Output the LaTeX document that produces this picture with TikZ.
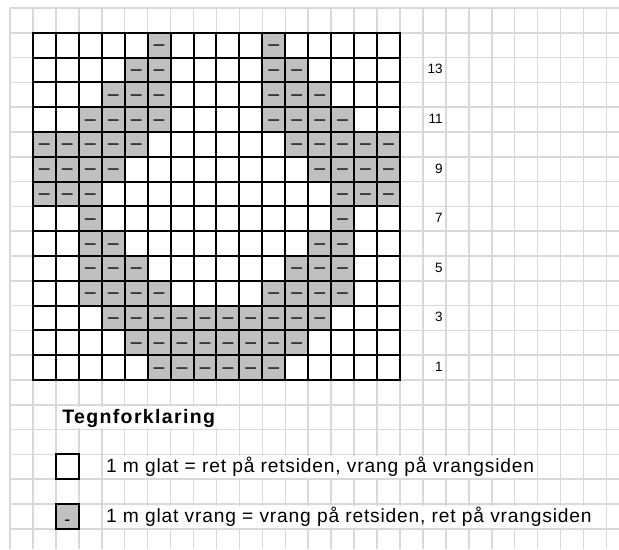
\documentclass[tikz,border=0pt]{standalone}
\usepackage{fontspec}
\setmainfont{Liberation Sans}
\newfontfamily\legfont[LetterSpace=4.3]{Liberation Sans}
\newfontfamily\titlefont[LetterSpace=7]{Liberation Sans}
\usepackage{xcolor}
\definecolor{gridgray}{RGB}{217,217,217}
\definecolor{purlgray}{RGB}{192,192,192}

\begin{document}
\begin{tikzpicture}[
  x=22.94pt, y=-24.8pt,
  bgline/.style={draw=gridgray, line width=1.5pt},
  knit/.style={draw, line width=2pt, fill=white, minimum width=22.94pt,
               minimum height=24.8pt, inner sep=0pt, outer sep=0pt},
  purl/.style={knit, fill=purlgray, font=\fontsize{19.5}{19.5}\selectfont,
               text height=10.8pt, text depth=0pt},
  purlkey/.style={knit, fill=purlgray, font=\fontsize{18}{18}\selectfont,
                  text height=19pt, text depth=0pt},
  rownum/.style={anchor=base east, inner sep=0pt,
                 font=\fontsize{13.5}{13.5}\selectfont},
  ttl/.style={anchor=base west, fill=white, inner xsep=3pt, inner ysep=0pt,
              text height=17pt, text depth=4.5pt,
              font=\titlefont\bfseries\fontsize{19.5}{19.5}\selectfont},
  lbl/.style={anchor=base west, fill=white, inner xsep=3pt, inner ysep=0pt,
              text height=16.7pt, text depth=5.3pt,
              font=\legfont\fontsize{19.2}{19.2}\selectfont}
]
\useasboundingbox (-0.436,-0.323) rectangle (26.547,21.815);

%% ---- squared paper ----
\foreach \i in {0,...,26}
  \draw[bgline] (\i,0) -- (\i,21.815);
\foreach \j in {0,...,21}
  \draw[bgline] (0,\j) -- (26.547,\j);

%% ---- chart: knit cells ----
\foreach \r in {1,...,14}
  \foreach \c in {1,...,16}
    \node[knit] (k-\c-\r) at (\c+0.5, 15.5-\r) {};

%% ---- chart: purl cells, row / columns ----
\foreach \r/\cols in {14/{6,11},
                      13/{5,6,11,12},
                      12/{4,5,6,11,12,13},
                      11/{3,4,5,6,11,12,13,14},
                      10/{1,2,3,4,5,12,13,14,15,16},
                      9/{1,2,3,4,13,14,15,16},
                      8/{1,2,3,14,15,16},
                      7/{3,14},
                      6/{3,4,13,14},
                      5/{3,4,5,12,13,14},
                      4/{3,4,5,6,11,12,13,14},
                      3/{4,5,6,7,8,9,10,11,12,13},
                      2/{5,6,7,8,9,10,11,12},
                      1/{6,7,8,9,10,11}}
  \foreach \c in \cols
    \node[purl] (p-\c-\r) at (\c+0.5, 15.5-\r) {–};

%% ---- row numbers ----
\foreach \r in {1,3,...,13}
  \node[rownum] (row\r) at (18.87, 15.66-\r) {\r};

%% ---- legend ----
\node[ttl] (legend) at (2.14, 16.77) {Tegnforklaring};

\node[knit] (keyknit) at (2.5, 18.5) {};
\node[lbl] (txtknit) at (4.05, 18.74)
  {1 m glat = ret på retsiden, vrang på vrangsiden};

\node[purlkey] (keypurl) at (2.5, 20.5) {-};
\node[lbl] (txtpurl) at (4.05, 20.75)
  {1 m glat vrang = vrang på retsiden, ret på vrangsiden};

\end{tikzpicture}
\end{document}
